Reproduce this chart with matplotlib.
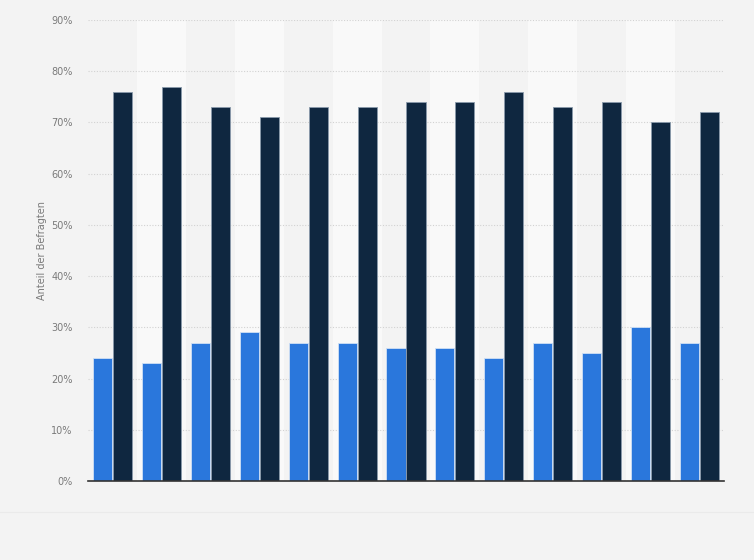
import numpy as np
import matplotlib.pyplot as plt
from matplotlib.ticker import FuncFormatter

# Values (percent)
share_a = [24, 23, 27, 29, 27, 27, 26, 26, 24, 27, 25, 30, 27]
share_b = [76, 77, 73, 71, 73, 73, 74, 74, 76, 73, 74, 70, 72]
y_ticks = [0, 10, 20, 30, 40, 50, 60, 70, 80, 90]

bg = "#f3f3f3"
band = "#f9f9f9"
col_a = "#2a77dc"
col_b = "#0f2740"

fig = plt.figure(figsize=(7.54, 5.60), dpi=100, facecolor=bg)
ax = fig.add_axes([88 / 754, 1 - 481 / 560, (724 - 88) / 754, (481 - 20) / 560])
ax.set_facecolor(bg)

n = len(share_a)
x = np.arange(n)
w = 0.39

# alternating background bands
for i in range(n):
    if i % 2 == 1:
        ax.axvspan(i - 0.5, i + 0.5, color=band, zorder=0, lw=0)

ax.bar(x - w / 2 - 0.01, share_a, width=w, color=col_a, edgecolor="#cfe0f5",
       linewidth=0.6, zorder=3)
ax.bar(x + w / 2 + 0.01, share_b, width=w, color=col_b, edgecolor="#8a9aab",
       linewidth=0.6, zorder=3)

ax.set_xlim(-0.5, n - 0.5)
ax.set_ylim(0, 90)
ax.set_yticks(y_ticks)
ax.yaxis.set_major_formatter(FuncFormatter(lambda v, p: f"{v:.0f}%"))
ax.grid(axis="y", color="#d2d2d2", linestyle=(0, (1, 1.5)), linewidth=0.8, zorder=1)
ax.set_xticks([])
ax.tick_params(axis="y", length=0, labelsize=7, labelcolor="#7a7a7a", pad=11)

for s in ["top", "right", "left"]:
    ax.spines[s].set_visible(False)
ax.spines["bottom"].set_color("#333333")
ax.spines["bottom"].set_linewidth(1.2)
ax.spines["bottom"].set_zorder(4)

ax.set_ylabel("Anteil der Befragten", fontsize=7, color="#7a7a7a", labelpad=3)

# faint divider near the bottom
fig.add_artist(plt.Line2D([0, 1], [1 - 512 / 560] * 2, color="#eaeaea", lw=0.8))

fig.savefig("out.png", dpi=100, facecolor=bg)
